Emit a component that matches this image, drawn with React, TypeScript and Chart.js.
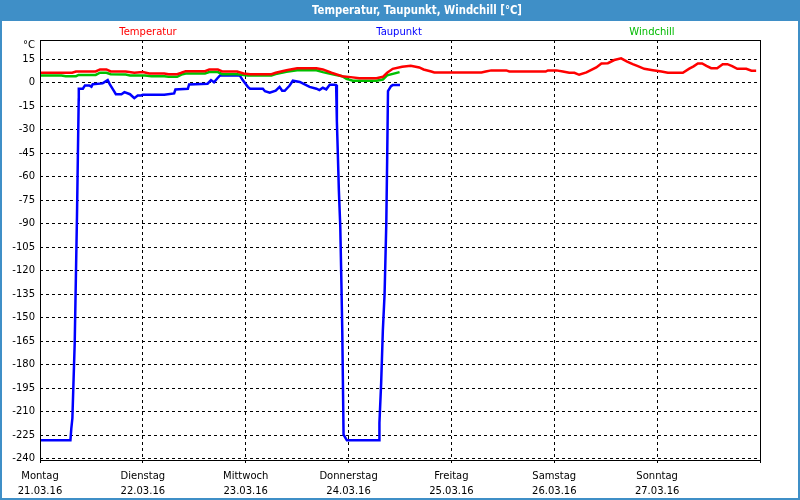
import React, { useEffect, useRef } from 'react';
import { Chart, registerables } from 'chart.js';

Chart.register(...registerables);

// ---------- text ----------
const TITLE = 'Temperatur, Taupunkt, Windchill [°C]';
const UNIT_LABEL = '°C';
const SERIES_NAMES = ['Temperatur', 'Taupunkt', 'Windchill'];
const DAY_NAMES = ['Montag', 'Dienstag', 'Mittwoch', 'Donnerstag', 'Freitag', 'Samstag', 'Sonntag', ''];
const DAY_DATES = ['21.03.16', '22.03.16', '23.03.16', '24.03.16', '25.03.16', '26.03.16', '27.03.16', ''];

// ---------- axes ----------
const DAY_HOURS = [0, 24, 48, 72, 96, 120, 144, 168];
const Y_TICKS = [15, 0, -15, -30, -45, -60, -75, -90, -105, -120, -135, -150, -165, -180, -195, -210, -225, -240];
const Y_MIN = -240.8;
const Y_MAX = 27.3;

// ---------- data (hours since Mon 21.03.16 00:00, °C) ----------
const tempHours = [0, 7.5, 8.4, 13, 14, 15.5, 16.5, 20, 22, 24, 25.5, 29, 30, 32, 33, 34, 38.5, 39.5, 41.5, 42.5, 46, 47.5, 49, 54, 55, 57.5, 60, 64.5, 66, 68, 70.5, 72.5, 74.5, 78.5, 80, 81, 82.3, 84.5, 86.5, 88.5, 89.5, 91.3, 92, 103, 104, 105.3, 108.8, 109.5, 118, 118.5, 120.5, 122, 123.5, 124.7, 125.8, 127.5, 129.8, 131, 132.5, 134, 135.6, 137, 138.3, 139.5, 141, 143, 145, 146.5, 150, 151.5, 152.5, 153.5, 154.5, 155.5, 156.6, 158, 159.3, 160.4, 161.5, 162.7, 164.8, 166, 167.1];
const tempValues = [6.4, 6.4, 7.2, 7.2, 8.5, 8.5, 7.2, 7.2, 6.4, 6.8, 5.9, 5.9, 5.5, 5.5, 6.4, 7.4, 7.4, 8.5, 8.5, 7.2, 7.2, 5.9, 5.5, 5.5, 6.4, 8, 9.3, 9.3, 8.5, 6.4, 4.2, 3.6, 2.9, 2.9, 3.8, 6.4, 8.9, 10.2, 10.8, 9.8, 8.5, 7.2, 6.6, 6.6, 7.2, 7.9, 7.9, 7.2, 7.2, 7.9, 7.9, 7.2, 6.4, 6.4, 5.1, 6.6, 9.8, 12.3, 12.5, 14.5, 15.6, 13.5, 11.9, 10.6, 8.9, 8, 7.2, 6.4, 6.4, 9, 10.5, 12.3, 12.3, 10.8, 9.3, 9.3, 11.9, 11.9, 10.6, 8.9, 8.9, 7.7, 7.7];

const dewHours = [0, 7.1, 7.3, 7.56, 8.1, 8.63, 9.03, 9.05, 10, 10.5, 11.5, 12, 12.3, 14.6, 15.8, 16.3, 17.2, 17.7, 19, 19.7, 21, 22, 22.8, 23.6, 24, 29, 31.3, 31.6, 34.5, 34.8, 39.1, 39.9, 40.6, 41.4, 42, 46.6, 47.3, 48.5, 49, 52, 52.5, 53.6, 55, 55.9, 56.5, 57.1, 58.2, 59, 60.6, 61.3, 62.9, 64.5, 65.2, 66, 66.8, 67.6, 68.7, 69.1, 69.27, 69.5, 69.74, 70.06, 70.3, 70.53, 70.83, 71.6, 79.1, 79.2, 79.6, 80, 80.4, 80.8, 81, 81.2, 81.9, 82.3, 84];
const dewValues = [-228.2, -228.2, -221, -214, -166, -85, -10.7, -3.8, -3.8, -1.7, -1.7, -2.5, -0.9, -0.4, 1.7, -1, -5, -7.3, -7.3, -6, -7.3, -9.8, -8.1, -8.1, -7.7, -7.7, -6.8, -4.3, -3.8, -1.1, -0.6, 1.7, 0.3, 2.9, 4.7, 4.7, 1.7, -2.6, -3.8, -3.8, -5.4, -6.4, -5, -2.6, -5.1, -5.1, -1.9, 1.3, 0.5, -0.4, -2.6, -3.8, -4.7, -3.2, -4.2, -1.3, -1.3, -1.5, -24.5, -45.8, -69, -91.5, -124, -158.6, -224.6, -228.2, -228.2, -217, -192, -158, -135, -90, -50, -5.4, -2.2, -1.5, -1.5];

const chillHours = [0, 5, 6, 8.4, 9, 13, 14, 15.5, 16.5, 20, 21, 24.5, 26, 29, 30, 32, 33, 34, 38.5, 39.5, 41.5, 42.5, 46, 47, 48.5, 54, 55, 57.5, 60, 64.5, 66, 68, 70.5, 71.5, 73, 78.5, 80, 81, 83.9];
const chillValues = [4.7, 4.7, 4.2, 4.2, 5, 5, 6.4, 6.4, 5.5, 5.2, 4.7, 4.7, 4.2, 4.2, 3.8, 3.8, 5.2, 5.9, 5.9, 6.8, 6.8, 5.5, 5.5, 5.1, 4.7, 4.7, 5.5, 7, 8, 8, 6.8, 5.5, 4.2, 2.5, 1.3, 1.3, 2.1, 4.7, 6.8];

const zip = (xs: number[], ys: number[]) => xs.map((x, i) => ({ x, y: ys[i] }));

const FONT = '"DejaVu Sans", Verdana, sans-serif';
const FRAME_BLUE = '#3f8fc7';

const framePlugin = {
  id: 'frame',
  beforeDraw(chart: any) {
    const { ctx, width, height } = chart;
    ctx.save();
    ctx.fillStyle = '#ffffff';
    ctx.fillRect(0, 0, width, height);
    ctx.fillStyle = FRAME_BLUE;
    ctx.fillRect(0, 0, width, 21);
    ctx.fillRect(0, 0, 2, height);
    ctx.fillRect(width - 2, 0, 2, height);
    ctx.fillRect(0, height - 2, width, 2);
    // title
    ctx.fillStyle = '#ffffff';
    ctx.font = 'bold 12px ' + FONT;
    ctx.textAlign = 'center';
    ctx.textBaseline = 'middle';
    ctx.fillText(TITLE, 417, 10.5, 210);
    // series labels
    const colors = ['#ff0000', '#0000ff', '#00bb00'];
    const centers = [148, 399, 652];
    ctx.font = '10px ' + FONT;
    SERIES_NAMES.forEach((n, i) => {
      ctx.fillStyle = colors[i];
      ctx.fillText(n, centers[i], 32);
    });
    // unit
    ctx.fillStyle = '#000000';
    ctx.textAlign = 'right';
    ctx.fillText(UNIT_LABEL, 35, 45.5);
    ctx.restore();
  },
  afterDatasetsDraw(chart: any) {
    const { ctx, chartArea } = chart;
    ctx.save();
    ctx.strokeStyle = '#000000';
    ctx.lineWidth = 1;
    ctx.setLineDash([]);
    ctx.strokeRect(chartArea.left + 0.5, chartArea.top + 0.5, chartArea.right - chartArea.left, chartArea.bottom - chartArea.top);
    ctx.restore();
  },
};

export default function App() {
  const ref = useRef<HTMLCanvasElement>(null);
  useEffect(() => {
    const chart = new Chart(ref.current as HTMLCanvasElement, {
      type: 'line',
      data: {
        datasets: [
          { label: SERIES_NAMES[0], data: zip(tempHours, tempValues), borderColor: '#ff0000', borderWidth: 2.5, pointRadius: 0, tension: 0, fill: false },
          { label: SERIES_NAMES[2], data: zip(chillHours, chillValues), borderColor: '#00c000', borderWidth: 2.5, pointRadius: 0, tension: 0, fill: false },
          { label: SERIES_NAMES[1], data: zip(dewHours, dewValues), borderColor: '#0000ff', borderWidth: 2.5, pointRadius: 0, tension: 0, fill: false },
        ],
      },
      options: {
        responsive: false,
        animation: false,
        events: [],
        layout: { padding: { left: 0, right: 40, top: 40, bottom: 0 } },
        plugins: { legend: { display: false }, tooltip: { enabled: false }, title: { display: false } },
        scales: {
          x: {
            type: 'linear',
            min: 0,
            max: 168,
            afterBuildTicks: (scale: any) => { scale.ticks = DAY_HOURS.map((v) => ({ value: v })); },
            afterFit: (scale: any) => { scale.height = 40; },
            grid: { color: '#000000', lineWidth: 1, drawTicks: true, tickLength: 3, tickColor: '#000000', tickBorderDash: [] },
            border: { display: false, dash: [3, 3] },
            ticks: {
              autoSkip: false,
              maxRotation: 0,
              padding: 6,
              color: '#000000',
              font: { family: FONT, size: 10, lineHeight: '15px' },
              callback: (_v: any, i: number) => (DAY_NAMES[i] ? [DAY_NAMES[i], DAY_DATES[i]] : ''),
            },
          },
          y: {
            type: 'linear',
            min: Y_MIN,
            max: Y_MAX,
            afterBuildTicks: (scale: any) => { scale.ticks = Y_TICKS.map((v) => ({ value: v })); },
            afterFit: (scale: any) => { scale.width = 40; },
            grid: { color: '#000000', lineWidth: 1, drawTicks: false },
            border: { display: false, dash: [3, 3] },
            ticks: {
              padding: 5,
              color: '#000000',
              font: { family: FONT, size: 10 },
              callback: (v: any) => String(v),
            },
          },
        },
      },
      plugins: [framePlugin],
    } as any);
    return () => chart.destroy();
  }, []);
  return (
    <div style={{ position: 'absolute', left: 0, top: 0, width: 800, height: 500 }}>
      <canvas ref={ref} width={800} height={500} style={{ display: 'block' }} />
    </div>
  );
}
